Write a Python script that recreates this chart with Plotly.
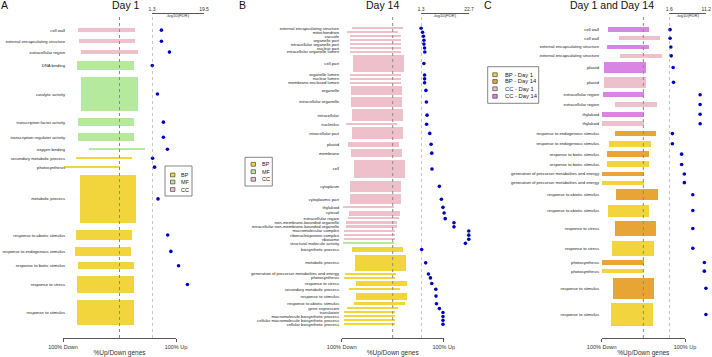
import plotly.graph_objects as go

W, H = 712, 357
FONT = "Liberation Sans, Arial, sans-serif"

# ---------------- DATA ----------------
# Panel A : Day 1
a_terms = ["cell wall", "external encapsulating structure", "extracellular region",
           "DNA binding", "catalytic activity", "transcription factor activity",
           "transcription regulator activity", "oxygen binding", "secondary metabolic process",
           "photosynthesis", "metabolic process", "response to abiotic stimulus",
           "response to endogenous stimulus", "response to biotic stimulus",
           "response to stress", "response to stimulus"]
a_group = ["CC", "CC", "CC", "MF", "MF", "MF", "MF", "MF", "BP", "BP", "BP", "BP", "BP", "BP", "BP", "BP"]
a_genes = [13, 13, 12, 28, 103, 25, 25, 7, 7, 6, 144, 32, 26, 20, 52, 75]
a_pct_up = [27, 28, 32, 25, 32, 26, 26, 46, 23, 1, 30, 23, 21, 26, 25, 25]
a_fdr = [4.6, 4.6, 7.4, 1.4, 3.2, 5.3, 5.3, 6.7, 1.5, 2.2, 3.4, 6.8, 7.9, 10.6, 13.7, 19.6]

# Panel B : Day 14
b_terms = ["external encapsulating structure", "mitochondrion", "vacuole", "organelle part",
           "intracellular organelle part", "nuclear part", "intracellular organelle lumen",
           "cell part", "organelle lumen", "nuclear lumen", "membrane-enclosed lumen",
           "organelle", "intracellular organelle", "intracellular", "nucleolus",
           "intracellular part", "plastid", "membrane", "cell", "cytoplasm",
           "cytoplasmic part", "thylakoid", "cytosol", "extracellular region",
           "non-membrane-bounded organelle", "intracellular non-membrane-bounded organelle",
           "macromolecular complex", "ribonucleoprotein complex", "ribosome",
           "structural molecule activity", "biosynthetic process", "metabolic process",
           "generation of precursor metabolites and energy", "photosynthesis",
           "response to stress", "secondary metabolic process", "response to stimulus",
           "response to abiotic stimulus", "gene expression", "translation",
           "macromolecule biosynthetic process", "cellular macromolecule biosynthetic process",
           "cellular biosynthetic process"]
b_group = ["CC"] * 29 + ["MF"] + ["BP"] * 13
b_genes = [6, 7, 6, 6, 6, 6, 6, 67, 6, 6, 6, 36, 38, 48, 6, 48, 20, 32, 76, 44, 40, 6, 20, 6,
           7, 7, 7, 7, 7, 6, 24, 64, 6, 6, 20, 7, 28, 14, 6, 6, 6, 6, 6]
b_pct_up = [20, 9, 15, 15, 15, 15, 15, 21, 16, 16, 16, 18, 18, 19, 7, 19, 11, 17, 23, 16, 15, 2,
            14, 11, 7, 7, 4, 3, 3, 2, 20, 26, 5, 3, 27, 13, 27, 23, 9, 3, 3, 3, 3]
b_fdr = [1.35, 2.0, 2.4, 2.6, 2.6, 2.9, 3.0, 2.6, 2.9, 2.9, 2.9, 3.5, 3.7, 4.0, 3.8, 5.2, 5.8,
         6.1, 6.2, 9.5, 10.4, 11.1, 11.6, 12.1, 16.0, 16.0, 22.6, 22.6, 22.6, 21.1, 1.6, 3.4,
         4.6, 5.5, 6.1, 7.9, 8.0, 8.2, 9.5, 11.1, 11.1, 11.1, 11.1]

# Panel C : Day 1 and Day 14
c_terms = ["cell wall", "cell wall", "external encapsulating structure",
           "external encapsulating structure", "plastid", "plastid", "extracellular region",
           "extracellular region", "thylakoid", "thylakoid", "response to endogenous stimulus",
           "response to endogenous stimulus", "response to biotic stimulus",
           "response to biotic stimulus", "generation of precursor metabolites and energy",
           "generation of precursor metabolites and energy", "response to abiotic stimulus",
           "response to abiotic stimulus", "response to stress", "response to stress",
           "photosynthesis", "photosynthesis", "response to stimulus", "response to stimulus"]
c_group = ["CC14", "CC1"] * 5 + ["BP14", "BP1"] * 7
c_genes = [14, 12, 14, 13, 31, 32, 16, 17, 15, 16, 17, 18, 18, 18, 13, 13, 33, 36, 46, 46, 13, 13, 64, 67]
c_pct_up = [14, 40, 13, 44, 5, 5, 2, 32, 0, 0, 30, 17, 13, 13, 0, 0, 34, 14, 30, 25, 0, 0, 26, 22]
c_fdr = [1.8, 1.8, 2.0, 2.1, 2.6, 2.7, 9.6, 9.6, 9.6, 9.6, 2.4, 2.4, 4.8, 4.8, 5.5, 5.5,
         7.7, 7.7, 7.7, 7.7, 10.7, 10.7, 11.1, 11.1]

# ---------------- STYLE ----------------
COLORS = {"BP": "#F2D53C", "MF": "#B4E99E", "CC": "#EEC0CB",
          "BP1": "#F2D53C", "BP14": "#E8A535", "CC1": "#EEC0CB", "CC14": "#D886E2"}
DOT = "#0000C4"

fig = go.Figure()
shapes, annos = [], []


def px(x):
    return x / W


def py(y):
    return 1 - y / H


def stack(counts, gap):
    centers, pos = [], 0.0
    for c in counts:
        centers.append(pos + c / 2)
        pos += c + gap
    return centers, pos - gap


def panel(idx, terms, groups, genes, pct_up, fdr, gap, top, bottom,
          bar_dom, fdr_dom, fdr_rng, label_x, title, title_x, letter_x):
    xb = "x" if idx == 0 else f"x{2 * idx + 1}"
    xf = f"x{2 * idx + 2}"
    yk = "y" if idx == 0 else f"y{idx + 1}"
    centers, total = stack(genes, gap)
    ppu = (bottom - top) / total
    down = [100 - u for u in pct_up]
    fig.add_trace(go.Bar(orientation="h", y=centers, base=[-d for d in down],
                         x=[d + u for d, u in zip(down, pct_up)], width=genes,
                         marker=dict(color=[COLORS[g] for g in groups], line=dict(width=0)),
                         xaxis=xb, yaxis=yk, showlegend=False, hoverinfo="skip"))
    fig.add_trace(go.Scatter(x=fdr, y=centers, mode="markers", cliponaxis=False,
                             marker=dict(size=3.6, color=DOT),
                             xaxis=xf, yaxis=yk, showlegend=False, hoverinfo="skip"))
    lay = {}
    lay[("xaxis" if idx == 0 else f"xaxis{2 * idx + 1}")] = dict(
        domain=[px(bar_dom[0]), px(bar_dom[1])], range=[-100, 100], anchor="free",
        position=py(338), side="bottom", showline=True, linecolor="#555", linewidth=0.8,
        ticks="outside", ticklen=3, tickcolor="#555", tickwidth=0.8, automargin=False,
        tickvals=[-100, 100], ticktext=["100% Down", "100% Up"],
        tickfont=dict(size=5.5, color="#333", family=FONT),
        title=dict(text="%Up/Down genes", font=dict(size=6.5, color="#333", family=FONT), standoff=1),
        showgrid=False, zeroline=False, fixedrange=True)
    lay[f"xaxis{2 * idx + 2}"] = dict(
        domain=[px(fdr_dom[0]), px(fdr_dom[1])], range=fdr_rng, anchor="free",
        position=py(13.3), side="top", showline=True, linecolor="#555", linewidth=0.8,
        ticks="inside", ticklen=3, tickcolor="#555", tickwidth=0.8, automargin=False,
        tickvals=fdr_rng, ticktext=[f"{v:g}" for v in fdr_rng],
        tickfont=dict(size=5, color="#333", family=FONT),
        showgrid=False, zeroline=False, fixedrange=True)
    lay[("yaxis" if idx == 0 else f"yaxis{idx + 1}")] = dict(
        domain=[0, 1], range=[(H - top) / ppu, -top / ppu], anchor="free",
        position=px(label_x), showline=False, ticks="", tickvals=centers, ticktext=terms,
        tickfont=dict(size=4.2, color="#222", family=FONT), automargin=False,
        showgrid=False, zeroline=False, fixedrange=True)
    fig.update_layout(**lay)
    # midline and FDR threshold line
    shapes.append(dict(type="line", xref=xb, yref="paper", x0=0, x1=0, y0=py(338), y1=py(16),
                       line=dict(color="#8a8a8a", width=1, dash="dot")))
    shapes.append(dict(type="line", xref=xf, yref="paper", x0=fdr_rng[0], x1=fdr_rng[0],
                       y0=py(338), y1=py(13.3), line=dict(color="#777", width=0.8, dash="dot")))
    annos.append(dict(xref="paper", yref="paper", x=px((fdr_dom[0] + fdr_dom[1]) / 2), y=py(15.5),
                      text="-log10(FDR)", showarrow=False, xanchor="center", yanchor="middle",
                      font=dict(size=4.2, color="#333", family=FONT)))
    annos.append(dict(xref="paper", yref="paper", x=px(title_x), y=py(5.5), text=title,
                      showarrow=False, xanchor="center", yanchor="middle",
                      font=dict(size=10.5, color="#111", family=FONT)))
    annos.append(dict(xref="paper", yref="paper", x=px(letter_x), y=py(5.5), text="ABC"[idx],
                      showarrow=False, xanchor="center", yanchor="middle",
                      font=dict(size=10.5, color="#111", family=FONT)))


def legend(box, sw_x, txt_x, ys, items, fsize, sw=4.4):
    shapes.append(dict(type="rect", xref="paper", yref="paper", x0=px(box[0]), x1=px(box[2]),
                       y0=py(box[3]), y1=py(box[1]), line=dict(color="#666", width=0.8),
                       fillcolor="white"))
    for (name, key), y in zip(items, ys):
        shapes.append(dict(type="rect", xref="paper", yref="paper",
                           x0=px(sw_x - sw / 2), x1=px(sw_x + sw / 2),
                           y0=py(y + sw / 2 - 0.3), y1=py(y - sw / 2 + 0.3),
                           line=dict(color="#444", width=0.7), fillcolor=COLORS[key]))
        annos.append(dict(xref="paper", yref="paper", x=px(txt_x), y=py(y), text=name,
                          showarrow=False, xanchor="left", yanchor="middle",
                          font=dict(size=fsize, color="#222", family=FONT)))


panel(0, a_terms, a_group, a_genes, a_pct_up, a_fdr, 20, 28, 325,
      (63, 176), (152, 204), [1.3, 19.5], 65, "Day 1", 126, 4)
panel(1, b_terms, b_group, b_genes, b_pct_up, b_fdr, 9.7, 27.5, 325,
      (341.7, 443.7), (421, 469), [1.3, 22.7], 339, "Day 14", 383, 243)
panel(2, c_terms, c_group, c_genes, c_pct_up, c_fdr, 13, 27.3, 325.7,
      (601.7, 685), (669.3, 706.3), [1.6, 11.2], 599, "Day 1 and Day 14", 612, 487.5)

legend((165, 166, 192, 196), 172.7, 179, [175, 182, 189.5],
       [("BP", "BP"), ("MF", "MF"), ("CC", "CC")], 5.5)
legend((245, 157.3, 272.3, 186), 253.3, 260, [164.3, 171.7, 179.3],
       [("BP", "BP"), ("MF", "MF"), ("CC", "CC")], 5.5)
legend((487.7, 66.7, 538.7, 103.3), 495, 503, [74.7, 81.5, 88.8, 96.3],
       [("BP - Day 1", "BP1"), ("BP - Day 14", "BP14"), ("CC - Day 1", "CC1"), ("CC - Day 14", "CC14")], 5.8)

fig.update_layout(width=W, height=H, margin=dict(l=0, r=0, t=0, b=0, pad=0, autoexpand=False),
                  paper_bgcolor="white", plot_bgcolor="rgba(0,0,0,0)",
                  barmode="overlay", bargap=0, showlegend=False, hovermode=False,
                  shapes=shapes, annotations=annos, font=dict(family=FONT))

fig.write_html("out.html", config={"displayModeBar": False},
               post_script="document.body.style.margin='0';document.body.style.padding='0';")
